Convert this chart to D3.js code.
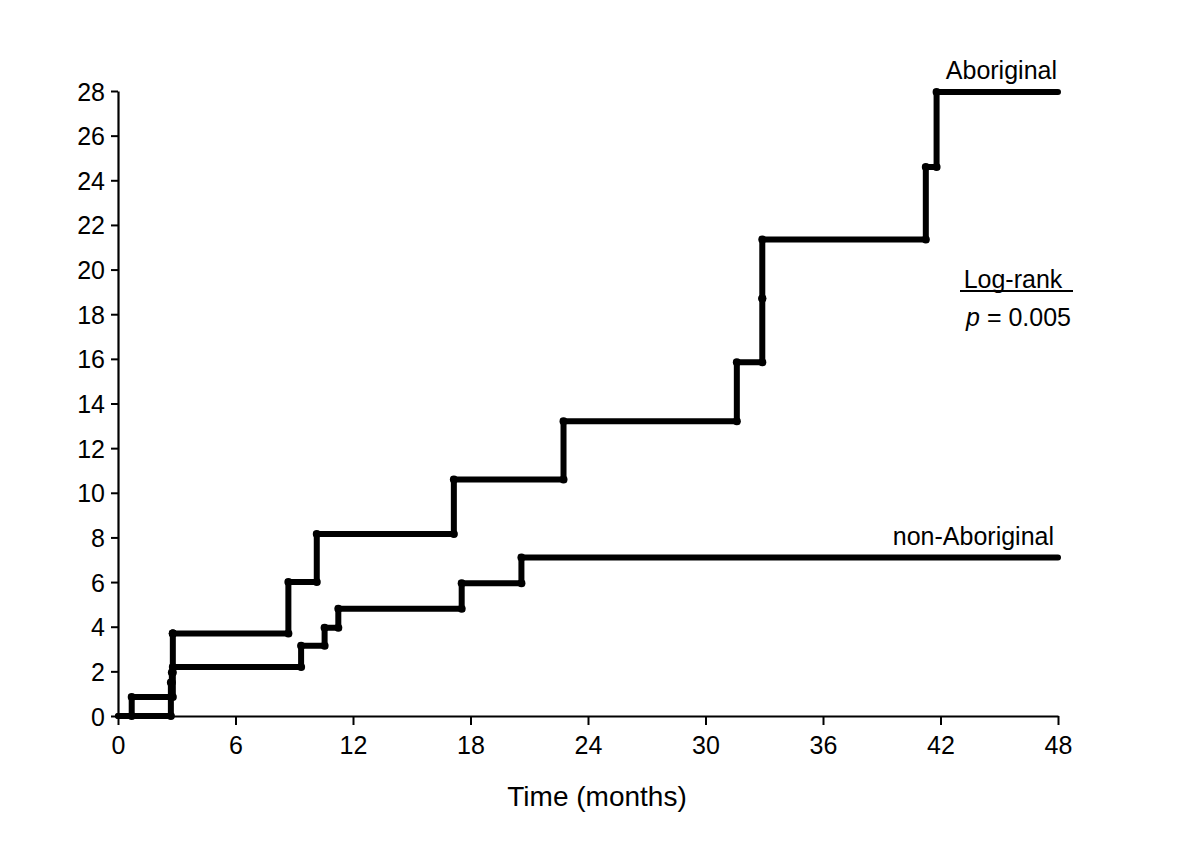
<!DOCTYPE html>
<html>
<head>
<meta charset="utf-8">
<script src="https://cdn.jsdelivr.net/npm/d3@7"></script>
<style>
  body { margin: 0; background: #fff; }
  svg { display: block; font-family: "Liberation Sans", Arial, sans-serif; }
</style>
</head>
<body>
<svg id="chart" width="1200" height="847"></svg>
<script>
// Step data: time (months) and cumulative value at each step vertex
const aboriginalTime  = [0, 0.7, 2.8, 2.8, 8.7, 10.15, 17.15, 22.75, 31.6, 32.9, 32.9, 41.25, 41.8, 48];
const aboriginalValue = [0, 0.85, 3.7, 3.7, 6.0, 8.15, 10.6, 13.2, 15.85, 18.7, 21.35, 24.6, 27.95, 27.95];
const nonAboriginalTime  = [0, 2.7, 2.75, 2.8, 9.35, 10.55, 11.25, 17.55, 20.6, 48];
const nonAboriginalValue = [0, 1.5, 1.95, 2.2, 3.15, 3.95, 4.8, 5.95, 7.1, 7.1];
const xTicks = [0, 6, 12, 18, 24, 30, 36, 42, 48];
const yTicks = [0, 2, 4, 6, 8, 10, 12, 14, 16, 18, 20, 22, 24, 26, 28];
const seriesLabels = ["Aboriginal", "non-Aboriginal"];
const xTitle = "Time (months)";
const statLabel = "Log-rank";
const pLabel = "0.005";

const svg = d3.select("#chart");
const x = d3.scaleLinear().domain([0, 48]).range([118, 1058]);
const y = d3.scaleLinear().domain([0, 28]).range([716, 91]);

// Axes
const xAxis = svg.append("g").attr("transform", "translate(0,716)")
  .call(d3.axisBottom(x).tickValues(xTicks).tickSize(9).tickPadding(6).tickSizeOuter(0));
const yAxis = svg.append("g").attr("transform", "translate(118,0)")
  .call(d3.axisLeft(y).tickValues(yTicks).tickSize(7).tickPadding(6).tickSizeOuter(0));
[xAxis, yAxis].forEach(g => {
  g.select(".domain").attr("stroke", "#000").attr("stroke-width", 2.2);
  g.selectAll(".tick line").attr("stroke", "#000").attr("stroke-width", 2);
  g.selectAll(".tick text").attr("fill", "#000").style("font-size", "25px")
   .style("font-family", "'Liberation Sans', Arial, sans-serif");
});
xAxis.selectAll(".tick text").attr("dy", "0.9em");
yAxis.selectAll(".tick text").attr("dy", "0.36em");

// Step curves
function drawSeries(times, values) {
  const pts = times.map((t, i) => [t, values[i]]);
  const line = d3.line().x(d => x(d[0])).y(d => y(d[1])).curve(d3.curveStepAfter);
  svg.append("path").datum(pts).attr("d", line)
    .attr("fill", "none").attr("stroke", "#000").attr("stroke-width", 6)
    .attr("stroke-linejoin", "miter").attr("stroke-linecap", "round");
  // vertex dots
  const corners = [];
  for (let i = 1; i < pts.length - 1; i++) {
    corners.push([pts[i][0], pts[i - 1][1]]);
    corners.push(pts[i]);
  }
  svg.append("g").selectAll("circle").data(corners).join("circle")
    .attr("cx", d => x(d[0])).attr("cy", d => y(d[1])).attr("r", 4).attr("fill", "#000");
}
drawSeries(nonAboriginalTime, nonAboriginalValue);
drawSeries(aboriginalTime, aboriginalValue);

// Labels
svg.append("text").attr("x", 1057).attr("y", 79).attr("text-anchor", "end")
  .style("font-size", "25px").text(seriesLabels[0]);
svg.append("text").attr("x", 1054).attr("y", 545).attr("text-anchor", "end")
  .style("font-size", "25px").text(seriesLabels[1]);

svg.append("text").attr("x", 1013).attr("y", 288).attr("text-anchor", "middle")
  .style("font-size", "25px").text(statLabel);
svg.append("line").attr("x1", 960).attr("x2", 1073).attr("y1", 291).attr("y2", 291)
  .attr("stroke", "#000").attr("stroke-width", 2);
const pt = svg.append("text").attr("x", 1071).attr("y", 326).attr("text-anchor", "end")
  .style("font-size", "25px");
pt.append("tspan").style("font-style", "italic").text("p");
pt.append("tspan").text(" = " + pLabel);

svg.append("text").attr("x", 597).attr("y", 806).attr("text-anchor", "middle")
  .style("font-size", "28px").text(xTitle);
</script>
</body>
</html>
